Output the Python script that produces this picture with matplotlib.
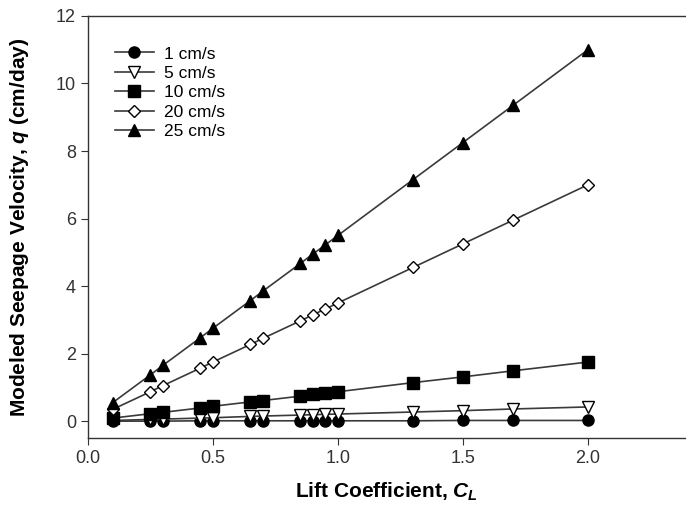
import matplotlib
matplotlib.use("Agg")
import matplotlib.pyplot as plt

plt.rcParams['font.family'] = ['Liberation Sans', 'DejaVu Sans']
plt.rcParams['mathtext.fontset'] = 'custom'
plt.rcParams['mathtext.it'] = 'Liberation Sans:bold:italic'
plt.rcParams['mathtext.rm'] = 'Liberation Sans:bold'

# lift coefficient values
cl = [0.1, 0.25, 0.3, 0.45, 0.5, 0.65, 0.7, 0.85, 0.9, 0.95, 1.0, 1.3, 1.5, 1.7, 2.0]

# modeled seepage velocity (cm/day) per flow velocity
q_1 = [0.0, 0.0, 0.0, 0.01, 0.01, 0.01, 0.01, 0.01, 0.01, 0.01, 0.01, 0.01, 0.02, 0.02, 0.02]
q_5 = [0.02, 0.05, 0.06, 0.09, 0.1, 0.14, 0.15, 0.18, 0.19, 0.2, 0.21, 0.27, 0.31, 0.36, 0.42]
q_10 = [0.09, 0.22, 0.26, 0.39, 0.44, 0.57, 0.61, 0.74, 0.79, 0.83, 0.87, 1.14, 1.31, 1.49, 1.75]
q_20 = [0.35, 0.87, 1.05, 1.57, 1.75, 2.27, 2.45, 2.97, 3.15, 3.32, 3.5, 4.55, 5.25, 5.95, 7.0]
q_25 = [0.55, 1.37, 1.65, 2.47, 2.75, 3.57, 3.85, 4.67, 4.95, 5.22, 5.5, 7.15, 8.25, 9.35, 11.0]

series = [
    ("1 cm/s", q_1, 'o', 'black'),
    ("5 cm/s", q_5, 'v', 'white'),
    ("10 cm/s", q_10, 's', 'black'),
    ("20 cm/s", q_20, 'D', 'white'),
    ("25 cm/s", q_25, '^', 'black'),
]

fig = plt.figure(figsize=(6.86, 5.23), dpi=100)
ax = fig.add_axes([0.128, 0.1625, 0.872, 0.807])

for label, vals, marker, face in series:
    ms = 6.5 if marker == 'D' else 8
    ax.plot(cl, vals, color='#3a3a3a', lw=1.2, marker=marker, markersize=ms,
            markerfacecolor=face, markeredgecolor='black', markeredgewidth=1.0,
            label=label)

ax.set_xlim(0, 2.392)
ax.set_ylim(-0.5, 12)
ax.set_xticks([0.0, 0.5, 1.0, 1.5, 2.0])
ax.set_xticklabels(['0.0', '0.5', '1.0', '1.5', '2.0'])
ax.set_yticks([0, 2, 4, 6, 8, 10, 12])
ax.tick_params(direction='out', length=5, width=0.8, labelsize=13, colors='#333333')
ax.spines['right'].set_visible(False)
for s in ['left', 'bottom', 'top']:
    ax.spines[s].set_linewidth(1.0)
    ax.spines[s].set_color('#333333')

ax.set_xlabel('Lift Coefficient, $C_L$', fontsize=15, fontweight='bold', labelpad=10)
ax.set_ylabel('Modeled Seepage Velocity, $q$ (cm/day)', fontsize=15,
              fontweight='bold', labelpad=18)

leg = ax.legend(loc='upper left', bbox_to_anchor=(0.02, 0.965), frameon=False,
                fontsize=12.5, handlelength=2.2, labelspacing=0.25, handletextpad=0.6)

fig.savefig('out.png', dpi=100)
